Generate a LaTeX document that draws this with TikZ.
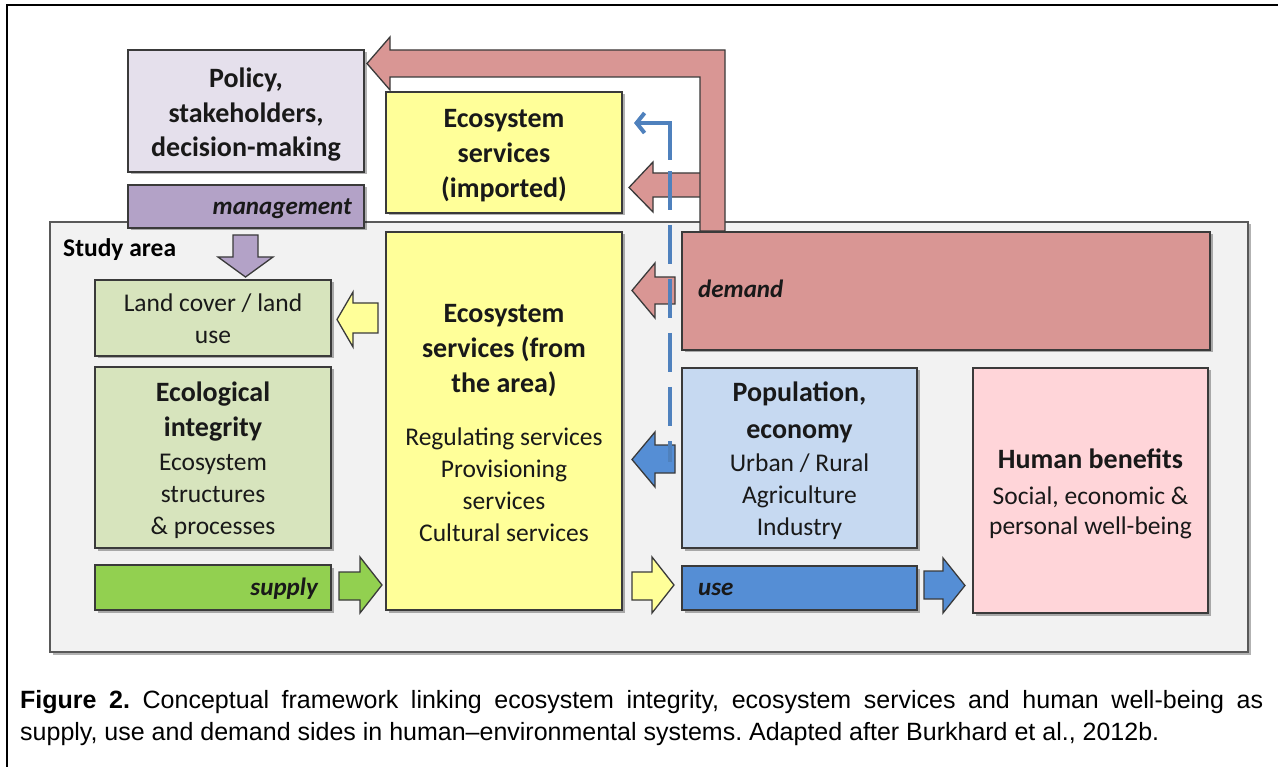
\documentclass[tikz,border=0pt]{standalone}
\usepackage{fontspec}
\setmainfont{Carlito}
\newfontfamily\capfont{Liberation Sans}
\usetikzlibrary{shadows,arrows.meta}
\definecolor{lav}{HTML}{E5E0EC}
\definecolor{purp}{HTML}{B3A2C7}
\definecolor{sgray}{HTML}{F2F2F2}
\definecolor{lgreen}{HTML}{D7E4BD}
\definecolor{sgreen}{HTML}{92D050}
\definecolor{yel}{HTML}{FFFF99}
\definecolor{dred}{HTML}{D99694}
\definecolor{lblue}{HTML}{C6D9F1}
\definecolor{mblue}{HTML}{558ED5}
\definecolor{hbpink}{HTML}{FFD5D9}
\definecolor{dashblue}{HTML}{4F81BD}
\definecolor{edge}{HTML}{3A3A3A}
\newcommand\ttlfont{\bfseries\fontsize{28}{32}\selectfont}
\newcommand\regfont{\fontsize{25.5}{32}\selectfont}
\newcommand\lblfont{\bfseries\itshape\fontsize{25}{30}\selectfont}
\frenchspacing
\begin{document}
\begin{tikzpicture}[x=1pt,y=-1pt,
  shad/.style={drop shadow={shadow xshift=2.5pt,shadow yshift=-2.5pt,opacity=0.3,fill=black}},
  box/.style={draw=edge,line width=1.6pt,anchor=north west,inner sep=0pt,outer sep=0pt,shad},
  txt/.style={inner sep=0pt,align=center,text=black!90},
  blockarrow/.style={draw=edge,line width=1.3pt,line join=miter},
  lbl/.style={inner sep=0pt,font=\lblfont,text=black!90},
  dashline/.style={draw=dashblue,line width=4pt}
]
\useasboundingbox (0,0) rectangle (1278,767);
\fill[white] (0,0) rectangle (1278,767);
\draw[line width=2.2pt] (7,800) -- (7,5) -- (1300,5);

% study area
\node[box,draw=black!65,line width=1.5pt,fill=sgray,minimum width=1198pt,minimum height=430pt] (study) at (50,222) {};
\node[anchor=base west,inner sep=0pt,font=\bfseries\fontsize{25.5}{30}\selectfont] (studylbl) at (63,257) {Study area};

% red arrows from the demand side
\draw[blockarrow,fill=dred] (700,173) -- (653,173) -- (653,162) -- (629,187.5) -- (653,212) -- (653,197) -- (700,197);
\draw[blockarrow,fill=dred] (700,231) -- (700,77) -- (390,77) -- (390,90) -- (367,63.5) -- (390,37) -- (390,50) -- (725,50) -- (725,231) -- cycle;

% boxes
\node[box,fill=lav,minimum width=236pt,minimum height=122pt] (policy) at (128,50) {};
\node[txt,font=\ttlfont] (policytxt) at ([yshift=-4pt]policy.center) {Policy,\\[2.5pt]stakeholders,\\[2.5pt]decision-making};
\node[box,fill=purp,minimum width=236pt,minimum height=43pt] (mgmt) at (128,185) {};
\node[lbl,anchor=base east] (mgmtlbl) at (352,215) {management};
\node[box,fill=yel,minimum width=236pt,minimum height=121pt] (imported) at (386,92) {};
\node[txt,font=\ttlfont] (importedtxt) at ([yshift=-3pt]imported.center) {Ecosystem\\[3pt]services\\[3pt](imported)};

\node[box,fill=lgreen,minimum width=236pt,minimum height=76pt] (landcov) at (95,280) {};
\node[txt,font=\regfont] (landcovtxt) at ([yshift=-1pt]landcov.center) {Land cover / land\\use};
\node[box,fill=lgreen,minimum width=236pt,minimum height=181pt] (eco) at (95,367) {};
\node[txt,font=\regfont] (ecotxt) at ([yshift=-2.5pt]eco.center) {{\ttlfont Ecological}\\[3pt]{\ttlfont integrity}\\[2pt]Ecosystem\\structures\\\& processes};
\node[box,fill=sgreen,minimum width=236pt,minimum height=45pt] (supply) at (95,565) {};
\node[lbl,anchor=base east] (supplylbl) at (318,595) {supply};

\node[box,fill=yel,minimum width=236pt,minimum height=378pt] (area) at (386,232) {};
\node[txt,font=\regfont] (areatxt) at ([yshift=-2.5pt]area.center) {{\ttlfont Ecosystem}\\[3pt]{\ttlfont services (from}\\[3pt]{\ttlfont the area)}\\[21pt]Regulating services\\Provisioning\\services\\Cultural services};

\node[box,fill=dred,minimum width=528pt,minimum height=118pt] (demand) at (682,232) {};
\node[lbl,anchor=base west] (demandlbl) at (698,298) {demand};
\node[box,fill=lblue,minimum width=235pt,minimum height=180pt] (pop) at (682,368) {};
\node[txt,font=\regfont] (poptxt) at ([yshift=-2.5pt]pop.center) {{\ttlfont Population,}\\[5pt]{\ttlfont economy}\\[1pt]Urban / Rural\\Agriculture\\Industry};
\node[box,fill=mblue,minimum width=235pt,minimum height=44pt] (use) at (682,566) {};
\node[lbl,anchor=base west] (uselbl) at (698,595) {use};
\node[box,fill=hbpink,minimum width=235pt,minimum height=245pt] (human) at (973,368) {};
\node[txt,font=\regfont] (humantxt) at ([yshift=-3pt]human.center) {{\ttlfont Human benefits}\\[4pt]Social, economic \&\\[-2pt]personal well-being};

% block arrows
\draw[blockarrow,fill=purp] (233,235) -- (258,235) -- (258,257) -- (273,257) -- (245.5,277) -- (218,257) -- (233,257) -- cycle;
\draw[blockarrow,fill=yel] (378,303) -- (353,303) -- (353,292) -- (337,319.5) -- (353,347) -- (353,333) -- (378,333) -- cycle;
\draw[blockarrow,fill=sgreen] (339,572) -- (360,572) -- (360,557) -- (382,585) -- (360,613) -- (360,600) -- (339,600) -- cycle;
\draw[blockarrow,fill=yel] (632,572) -- (652,572) -- (652,557) -- (674,585) -- (652,613) -- (652,600) -- (632,600) -- cycle;
\draw[blockarrow,fill=mblue] (924,571) -- (943,571) -- (943,558) -- (965,585.5) -- (943,613) -- (943,599) -- (924,599) -- cycle;
\draw[blockarrow,fill=dred] (675,277) -- (655,277) -- (655,263) -- (632,290.5) -- (655,318) -- (655,304) -- (675,304) -- cycle;
\draw[blockarrow,fill=mblue] (675,445) -- (655,445) -- (655,432) -- (632,459.5) -- (655,487) -- (655,473) -- (675,473) -- cycle;

% dashed blue flow
\coordinate (dashbot) at (670,462);
\coordinate (dashtop) at (670,171);
\coordinate (elbowstart) at (670,160);
\coordinate (elbowtip) at (634,123);
\draw[dashline,dash pattern=on 39pt off 15pt] (dashtop) -- (dashbot);
\draw[dashline,-{Straight Barb[length=8pt,width=20pt]}] (elbowstart) |- (elbowtip);

% caption
\node[anchor=base west,inner sep=0pt,font=\capfont\fontsize{25}{30}\selectfont] (cap1) at (20,708) {\makebox[1243pt][s]{\textbf{Figure 2.} Conceptual framework linking ecosystem integrity, ecosystem services and human well-being as}};
\node[anchor=base west,inner sep=0pt,font=\capfont\fontsize{25}{30}\selectfont] (cap2) at (20,740) {supply, use and demand sides in human–environmental systems. Adapted after Burkhard et al., 2012b.};
\end{tikzpicture}
\end{document}
